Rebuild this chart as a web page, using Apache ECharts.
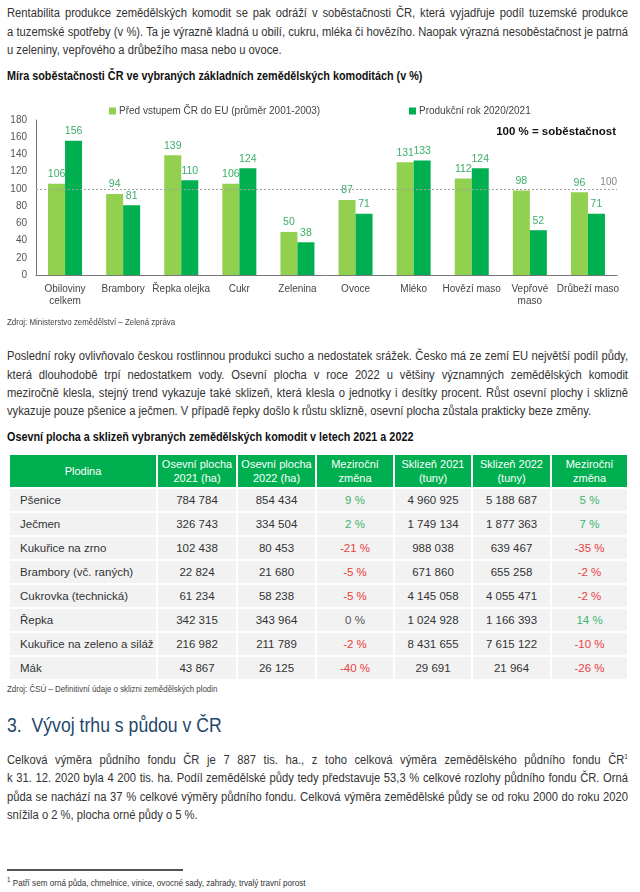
<!DOCTYPE html>
<html><head><meta charset="utf-8">
<script src="https://cdn.jsdelivr.net/npm/echarts@6/dist/echarts.min.js"></script>
<style>
html,body{margin:0;padding:0;background:#fff;}
body{width:640px;height:892px;position:relative;overflow:hidden;font-family:"Liberation Sans",Arial,sans-serif;color:#333;}
.ln{position:absolute;left:7px;width:706px;font-size:12px;line-height:18px;height:18px;white-space:nowrap;text-align:justify;text-align-last:justify;transform:scaleX(0.88);transform-origin:0 0;}
.ln.last{text-align-last:left;}
.ttl{position:absolute;left:7px;font-size:12px;font-weight:bold;color:#111;line-height:16px;white-space:nowrap;transform:scaleX(0.9);transform-origin:0 0;}
.src{position:absolute;left:7px;font-size:9px;color:#444;line-height:12px;white-space:nowrap;transform:scaleX(0.88);transform-origin:0 0;}
#chart{position:absolute;left:0;top:95px;width:640px;height:225px;}
table{position:absolute;left:8px;top:453px;border-collapse:collapse;table-layout:fixed;font-size:11.5px;}
td,th{border:2px solid #fff;padding:0;text-align:center;white-space:nowrap;overflow:hidden;}
th{background:#00b050;color:#fff;font-weight:normal;height:32px;line-height:14px;font-size:11px;}
td{background:#f2f2f2;height:22px;color:#333;}
td.first{text-align:left;padding-left:10px;}
.pos{color:#3cb371;} .neg{color:#e8403c;} .zero{color:#555;}
h3{position:absolute;left:7px;top:711px;margin:0;font-weight:normal;font-size:21px;line-height:28px;color:#24476b;white-space:nowrap;transform:scaleX(0.84);transform-origin:0 0;}
#rule{position:absolute;left:7px;top:869px;width:176px;height:2px;background:#555;}
.foot{position:absolute;left:7px;top:877px;font-size:9px;color:#333;white-space:nowrap;line-height:12px;transform:scaleX(0.9);transform-origin:0 0;}
sup{font-size:7px;line-height:0;}
</style></head>
<body>
<div class="ln" style="top:4px">Rentabilita produkce zemědělských komodit se pak odráží v soběstačnosti ČR, která vyjadřuje podíl tuzemské produkce</div>
<div class="ln" style="top:23px">a tuzemské spotřeby (v %). Ta je výrazně kladná u obilí, cukru, mléka či hovězího. Naopak výrazná nesoběstačnost je patrná</div>
<div class="ln last" style="top:41px">u zeleniny, vepřového a drůbežího masa nebo u ovoce.</div>
<div class="ttl" style="top:68px">Míra soběstačnosti ČR ve vybraných základních zemědělských komoditách (v %)</div>
<div id="chart"></div>
<div class="src" style="top:316px">Zdroj: Ministerstvo zemědělství – Zelená zpráva</div>

<div class="ln" style="top:347px">Poslední roky ovlivňovalo českou rostlinnou produkci sucho a nedostatek srážek. Česko má ze zemí EU největší podíl půdy,</div>
<div class="ln" style="top:366px">která dlouhodobě trpí nedostatkem vody. Osevní plocha v roce 2022 u většiny významných zemědělských komodit</div>
<div class="ln" style="top:384px">meziročně klesla, stejný trend vykazuje také sklizeň, která klesla o jednotky i desítky procent. Růst osevní plochy i sklizně</div>
<div class="ln last" style="top:402px">vykazuje pouze pšenice a ječmen. V případě řepky došlo k růstu sklizně, osevní plocha zůstala prakticky beze změny.</div>
<div class="ttl" style="top:429px">Osevní plocha a sklizeň vybraných zemědělských komodit v letech 2021 a 2022</div>
<table id="tbl"></table>
<div class="src" style="top:683px">Zdroj: ČSÚ – Definitivní údaje o sklizni zemědělských plodin</div>

<h3>3.&nbsp; Vývoj trhu s půdou v ČR</h3>
<div class="ln" style="top:751px">Celková výměra půdního fondu ČR je 7 887 tis. ha., z toho celková výměra zemědělského půdního fondu ČR<sup>1</sup></div>
<div class="ln" style="top:769px">k 31. 12. 2020 byla 4 200 tis. ha. Podíl zemědělské půdy tedy představuje 53,3 % celkové rozlohy půdního fondu ČR. Orná</div>
<div class="ln" style="top:788px">půda se nachází na 37 % celkové výměry půdního fondu. Celková výměra zemědělské půdy se od roku 2000 do roku 2020</div>
<div class="ln last" style="top:806px">snížila o 2 %, plocha orné půdy o 5 %.</div>
<div id="rule"></div>
<div class="foot"><sup>1</sup> Patří sem orná půda, chmelnice, vinice, ovocné sady, zahrady, trvalý travní porost</div>

<script>
// ---- chart data ----
const categories = ['Obiloviny\ncelkem','Brambory','Řepka olejka','Cukr','Zelenina','Ovoce','Mléko','Hovězí maso','Vepřové\nmaso','Drůbeží maso'];
const seriesNames = ['Před vstupem ČR do EU (průměr 2001-2003)','Produkční rok 2020/2021'];
const beforeEU = [106,94,139,106,50,87,131,112,98,96];
const year2021 = [156,81,110,124,38,71,133,124,52,71];
const yTicks = {min:0,max:180,interval:20};
const selfSufficiency = 100;

// ---- table data ----
const tableHeader = ['Plodina','Osevní plocha<br>2021 (ha)','Osevní plocha<br>2022 (ha)','Meziroční<br>změna','Sklizeň 2021<br>(tuny)','Sklizeň 2022<br>(tuny)','Meziroční<br>změna'];
const crops = ['Pšenice','Ječmen','Kukuřice na zrno','Brambory (vč. raných)','Cukrovka (technická)','Řepka','Kukuřice na zeleno a siláž','Mák'];
const area2021 = [784784,326743,102438,22824,61234,342315,216982,43867];
const area2022 = [854434,334504,80453,21680,58238,343964,211789,26125];
const areaChange = [9,2,-21,-5,-5,0,-2,-40];
const harvest2021 = [4960925,1749134,988038,671860,4145058,1024928,8431655,29691];
const harvest2022 = [5188687,1877363,639467,655258,4055471,1166393,7615122,21964];
const harvestChange = [5,7,-35,-2,-2,14,-10,-26];

// fit justified text lines: one common horizontal scale so the widest line just fills 621px
(function(){
  const lines=[...document.querySelectorAll('.ln:not(.last)')];
  const probe=document.createElement('span');
  probe.style.cssText='position:absolute;visibility:hidden;white-space:nowrap;font-size:12px;font-family:"Liberation Sans",Arial,sans-serif;';
  document.body.appendChild(probe);
  let maxW=0;
  lines.forEach(l=>{probe.innerHTML=l.innerHTML;maxW=Math.max(maxW,probe.getBoundingClientRect().width);});
  probe.remove();
  const s=Math.min(0.95,621/(maxW+2));
  document.querySelectorAll('.ln').forEach(l=>{l.style.width=(621/s)+'px';l.style.transform='scaleX('+s+')';});
})();

const colWidths = [148,80,79,78,78,79,77];
function fmt(n){return String(n).replace(/\B(?=(\d{3})+(?!\d))/g,' ');}
function pct(v){const c=v>0?'pos':(v<0?'neg':'zero');return '<td class="'+c+'">'+v+' %</td>';}
let html='<colgroup>'+colWidths.map(w=>'<col style="width:'+w+'px">').join('')+'</colgroup>';
html+='<tr>'+tableHeader.map(h=>'<th>'+h+'</th>').join('')+'</tr>';
crops.forEach((c,i)=>{
  html+='<tr><td class="first">'+c+'</td><td>'+fmt(area2021[i])+'</td><td>'+fmt(area2022[i])+'</td>'+pct(areaChange[i])+
  '<td>'+fmt(harvest2021[i])+'</td><td>'+fmt(harvest2022[i])+'</td>'+pct(harvestChange[i])+'</tr>';
});
const tbl=document.getElementById('tbl');
tbl.style.width=colWidths.reduce((a,b)=>a+b,0)+'px';
tbl.innerHTML=html;

const FONT='"Liberation Sans",Arial,sans-serif';
const chart=echarts.init(document.getElementById('chart'));
const lbl={show:true,position:'top',distance:4,color:'#3aae6a',fontSize:10.5,fontFamily:FONT};
chart.setOption({
  animation:false,
  textStyle:{fontFamily:FONT},
  legend:[
    {left:104,top:6,icon:'rect',itemWidth:7,itemHeight:7,itemGap:6,data:[seriesNames[0]],textStyle:{fontSize:10,color:'#444',fontFamily:FONT,padding:[0,0,0,-2]}},
    {left:404,top:6,icon:'rect',itemWidth:7,itemHeight:7,itemGap:6,data:[seriesNames[1]],textStyle:{fontSize:10,color:'#444',fontFamily:FONT,padding:[0,0,0,-2]}}
  ],
  grid:{left:36,right:23,top:25,bottom:45},
  xAxis:{type:'category',data:categories,axisLine:{lineStyle:{color:'#777',width:1}},axisTick:{show:false},
    axisLabel:{interval:0,color:'#444',fontSize:10,lineHeight:12,margin:8,fontFamily:FONT}},
  yAxis:{type:'value',min:yTicks.min,max:yTicks.max,interval:yTicks.interval,axisLine:{show:true,lineStyle:{color:'#777'}},
    axisTick:{show:false},splitLine:{show:false},axisLabel:{color:'#555',fontSize:10,margin:9,fontFamily:FONT}},
  graphic:[{type:'text',right:24,top:31,style:{text:'100 % = soběstačnost',font:'bold 11.5px '+FONT,fill:'#111'}}],
  series:[
    {name:seriesNames[0],type:'bar',data:beforeEU,barWidth:17,barGap:'0%',itemStyle:{color:'#92d050'},label:lbl,
     markLine:{silent:true,symbol:'none',data:[{yAxis:selfSufficiency}],lineStyle:{color:'#a0a0a0',type:[2,2],width:1},
       label:{position:'insideEndTop',formatter:'100',color:'#888',fontSize:10,distance:[0,2],fontFamily:FONT}}},
    {name:seriesNames[1],type:'bar',data:year2021,barWidth:17,barGap:'0%',itemStyle:{color:'#00b050'},label:lbl}
  ]
});
</script>
</body></html>
